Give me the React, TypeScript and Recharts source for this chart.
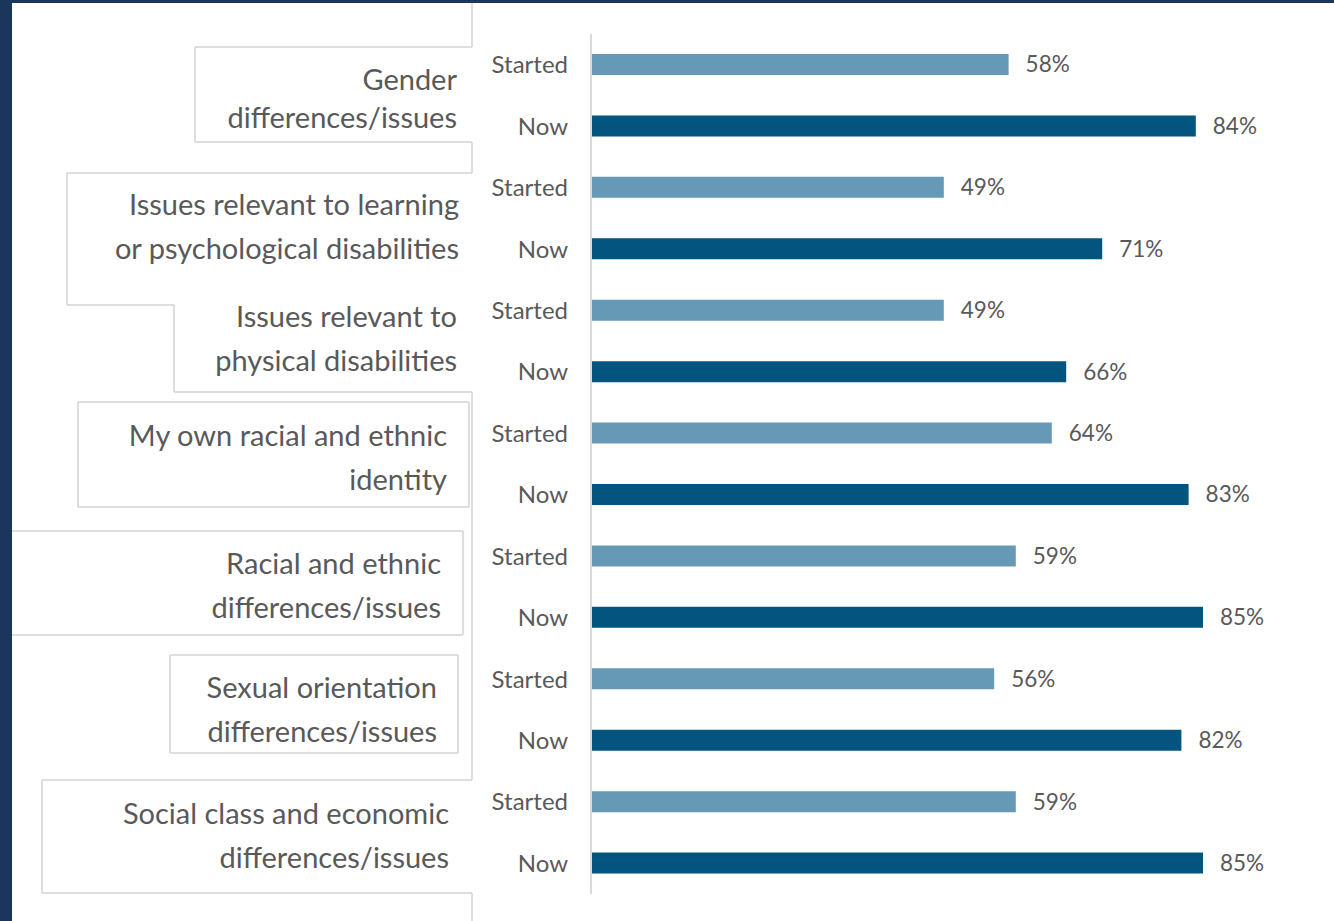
import React from "react";
import { BarChart, Bar, XAxis, YAxis, Cell, LabelList } from "recharts";

// ---- data ----
const categories = [
  ["Gender", "differences/issues"],
  ["Issues relevant to learning", "or psychological disabilities"],
  ["Issues relevant to", "physical disabilities"],
  ["My own racial and ethnic", "identity"],
  ["Racial and ethnic", "differences/issues"],
  ["Sexual orientation", "differences/issues"],
  ["Social class and economic", "differences/issues"],
];
const phases = ["Started", "Now"];
const startedValues = [58, 49, 49, 64, 59, 56, 59];
const nowValues = [84, 71, 66, 83, 85, 82, 85];

const rows = categories.flatMap((lines, ci) => [
  { id: `${ci}-s`, cat: ci, phase: phases[0], value: startedValues[ci] },
  { id: `${ci}-n`, cat: ci, phase: phases[1], value: nowValues[ci] },
]);

// ---- layout / style ----
const W = 1334;
const H = 921;
const MARGIN = { top: 34, right: 23, bottom: 27, left: 12 };
const AXIS_W = 579;
const HALF_BAND = (H - MARGIN.top - MARGIN.bottom) / rows.length / 2;
const NAVY = "#1b365d";
const LIGHT = "#6699b5";
const DARK = "#03557f";
const TEXT = "#595959";
const FONT = "Lato, 'Open Sans', sans-serif";
const BOX = "#d3d3d3";

// per-category label placement (right edge x, vertical nudge, line gap)
const labelRight = [457, 459, 457, 447, 441, 437, 449];
const labelNudge = [3, 8, -3, -6, -1, 0, 3];
const labelGap = [38, 44, 44, 44, 44, 44, 44];

// decorative outline segments of the label boxes seen in the picture
const boxSegments: [number, number, number, number][] = [
  [472, 3, 472, 47],
  [195, 47, 472, 47],
  [195, 47, 195, 142],
  [195, 142, 472, 142],
  [472, 142, 472, 173],
  [67, 173, 472, 173],
  [67, 173, 67, 305],
  [67, 305, 174, 305],
  [174, 305, 174, 392],
  [174, 392, 472, 392],
  [472, 392, 472, 780],
  [78, 402, 469, 402],
  [78, 402, 78, 507],
  [78, 507, 469, 507],
  [469, 402, 469, 507],
  [12, 531, 463, 531],
  [463, 531, 463, 635],
  [12, 635, 463, 635],
  [170, 655, 458, 655],
  [170, 655, 170, 753],
  [170, 753, 458, 753],
  [458, 655, 458, 753],
  [42, 780, 472, 780],
  [42, 780, 42, 893],
  [42, 893, 472, 893],
  [472, 893, 472, 921],
];

const RowTick = (props: any) => {
  const { x, y, payload } = props;
  const row = rows.find((r) => r.id === payload.value);
  if (!row) return null;
  const ci = row.cat;
  const isStart = row.phase === phases[0];
  const lines = categories[ci];
  const cy = y + HALF_BAND + labelNudge[ci];
  const gap = labelGap[ci];
  const startY = cy - ((lines.length - 1) * gap) / 2;
  return (
    <g>
      <text x={x} y={y} dy="0.36em" textAnchor="end" fill={TEXT} fontSize={24} fontFamily={FONT}>
        {row.phase}
      </text>
      {isStart &&
        lines.map((ln, i) => (
          <text
            key={i}
            x={labelRight[ci]}
            y={startY + i * gap}
            dy="0.36em"
            textAnchor="end"
            fill={TEXT}
            fontSize={29}
            fontFamily={FONT}
          >
            {ln}
          </text>
        ))}
    </g>
  );
};

export default function App() {
  return (
    <div style={{ position: "absolute", left: 0, top: 0, width: W, height: H, background: NAVY, overflow: "hidden" }}>
      <div style={{ position: "absolute", left: 12, top: 3, width: W - 12, height: H - 3, background: "#ffffff" }} />
      <svg width={W} height={H} style={{ position: "absolute", left: 0, top: 0 }}>
        {boxSegments.map(([x1, y1, x2, y2], i) => (
          <line key={i} x1={x1} y1={y1} x2={x2} y2={y2} stroke={BOX} strokeWidth={1.5} />
        ))}
      </svg>
      <div style={{ position: "absolute", left: 0, top: 0 }}>
        <BarChart width={W} height={H} data={rows} layout="vertical" margin={MARGIN}>
          <XAxis type="number" domain={[0, 100]} hide />
          <YAxis
            type="category"
            dataKey="id"
            width={AXIS_W}
            tickLine={false}
            tickSize={0}
            tickMargin={23}
            axisLine={{ stroke: "#d9d9d9", strokeWidth: 2 }}
            interval={0}
            tick={<RowTick />}
          />
          <Bar dataKey="value" barSize={21} isAnimationActive={false}>
            {rows.map((r) => (
              <Cell key={r.id} fill={r.phase === phases[0] ? LIGHT : DARK} />
            ))}
            <LabelList
              dataKey="value"
              position="right"
              offset={17}
              formatter={(v: any) => `${v}%`}
              fill={TEXT}
              fontSize={22.5}
              fontFamily={FONT}
            />
          </Bar>
        </BarChart>
      </div>
    </div>
  );
}
